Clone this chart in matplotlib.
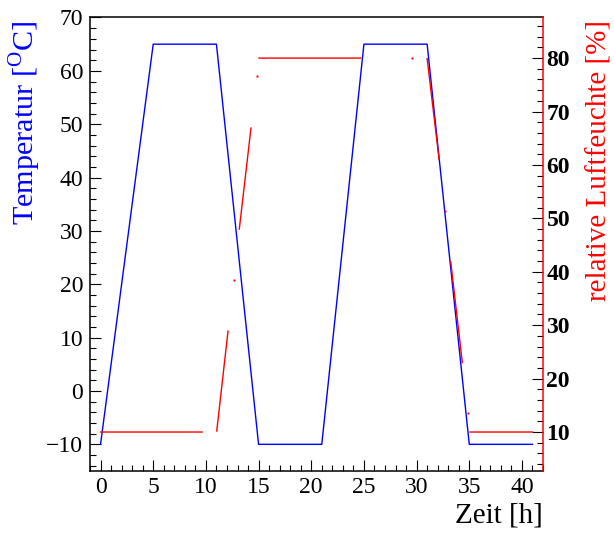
import numpy as np
import matplotlib
matplotlib.use("Agg")
import matplotlib.pyplot as plt
from matplotlib.ticker import MultipleLocator

# Temperaturverlauf (Zeit in h, Temperatur in Grad C)
temp_time = [0, 5, 11, 15, 21, 25, 31, 35, 41]
temp_value = [-10, 65, 65, -10, -10, 65, 65, -10, -10]

# relative Luftfeuchte: Liniensegmente, Luecken als nan
nan = np.nan
rh_time = [0, 9.65, nan, 11.03, 12.10, nan, 13.17, 14.28, nan, 15.04, 24.7, nan,
           31.0, 32.13, nan, 33.24, 34.34, nan, 35.07, 41.0]
rh_value = [10, 10, nan, 10.2, 28.9, nan, 48.0, 66.9, nan, 80, 80, nan,
            79.9, 61.1, nan, 41.9, 23.0, nan, 10, 10]

# einzelne Messpunkte der Luftfeuchte
rh_pt_time = [12.67, 14.82, 29.53, 32.70, 34.85]
rh_pt_value = [38.5, 76.6, 80.0, 51.4, 13.5]

x_ticks = [0, 5, 10, 15, 20, 25, 30, 35, 40]
temp_ticks = [-10, 0, 10, 20, 30, 40, 50, 60, 70]
rh_ticks = [10, 20, 30, 40, 50, 60, 70, 80]


def main():
    plt.rcParams["font.family"] = ["Liberation Serif", "DejaVu Serif"]
    plt.rcParams["mathtext.fontset"] = "custom"
    plt.rcParams["mathtext.rm"] = "Liberation Serif"

    fig = plt.figure(figsize=(6.14, 5.35), dpi=100)
    ax = fig.add_axes([0.1466, 0.1196, 0.7378, 0.8477])
    ax2 = ax.twinx()

    # Temperatur
    ax.plot(temp_time, temp_value, color="blue", lw=1.0)
    ax.set_xlim(-1, 42)
    ax.set_ylim(-15, 70)
    ax.set_xticks(x_ticks)
    ax.set_yticks(temp_ticks)
    ax.xaxis.set_minor_locator(MultipleLocator(1))
    ax.yaxis.set_minor_locator(MultipleLocator(2))
    ax.tick_params(which="both", direction="in", top=False, right=False,
                   labelsize=17, width=0.8)
    ax.tick_params(which="major", length=8)
    ax.tick_params(which="minor", length=4)
    ax.tick_params(axis="x", pad=4)
    ax.tick_params(axis="y", pad=4.8)
    ax.spines["right"].set_visible(False)
    for s in ["left", "bottom", "top"]:
        ax.spines[s].set_linewidth(1.1)

    # Luftfeuchte
    ax2.plot(rh_time, rh_value, color="red", lw=1.0)
    ax2.plot(rh_pt_time, rh_pt_value, ls="none", marker="s", ms=1.9,
             mec="none", color="red")
    ax2.set_ylim(2.7, 87.6)
    ax2.set_yticks(rh_ticks)
    ax2.yaxis.set_minor_locator(MultipleLocator(2))
    ax2.tick_params(which="both", direction="in", width=0.8, pad=2.5,
                    labelsize=17)
    ax2.tick_params(which="major", length=8)
    ax2.tick_params(which="minor", length=4)
    for lbl in ax2.get_yticklabels():
        lbl.set_fontweight("bold")
    for s in ["left", "bottom", "top"]:
        ax2.spines[s].set_visible(False)
    ax2.spines["right"].set_color("red")
    ax2.spines["right"].set_linewidth(1.1)

    # Achsenbeschriftungen
    ax.set_xlabel("Zeit [h]", fontsize=21, loc="right")
    ax.xaxis.set_label_coords(1.0, -0.07)
    ax.set_ylabel(r"Temperatur [$^{\mathrm{O}}$C]", fontsize=21.7, color="blue", loc="top")
    ax.yaxis.set_label_coords(-0.104, 0.994)
    ax2.set_ylabel("relative Luftfeuchte [%]", fontsize=21, color="red", loc="top")
    ax2.yaxis.set_label_coords(1.097, 0.994)

    fig.savefig("out.png", dpi=100)
    plt.close(fig)


if __name__ == "__main__":
    main()
